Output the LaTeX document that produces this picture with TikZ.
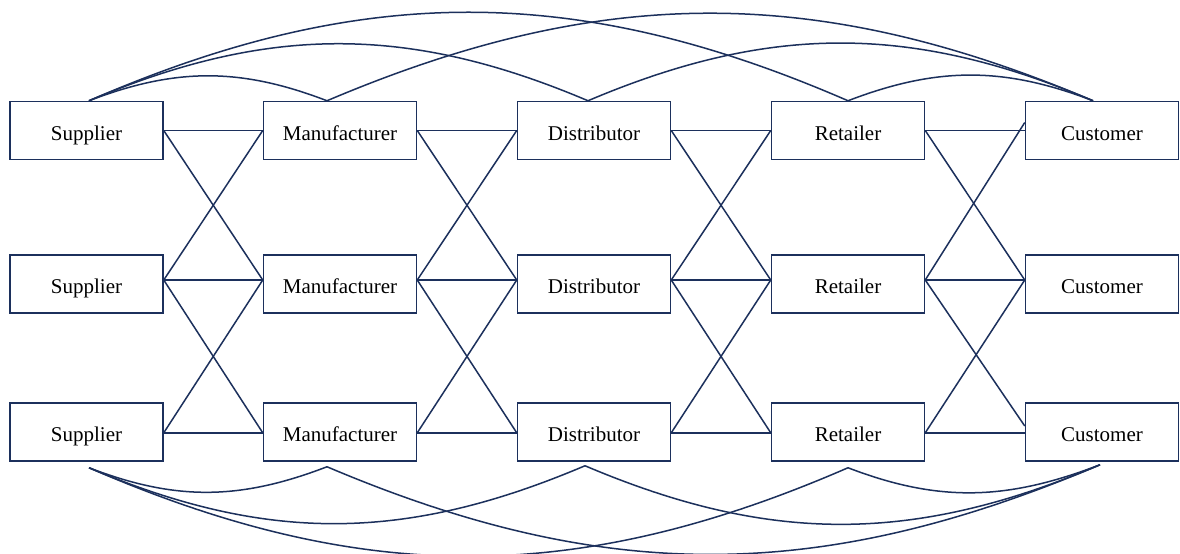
\documentclass[tikz,border=0pt]{standalone}
\usepackage{fontspec}
\setmainfont{Liberation Serif}
\definecolor{navy}{RGB}{28,48,92}
\begin{document}
\begin{tikzpicture}[x=0.5pt,y=-0.5pt,
  box/.style={draw=navy, line width=0.75pt, minimum width=76.5pt, minimum height=29pt,
    inner sep=0pt, text height=12pt, text depth=2.5pt, font=\fontsize{10.5}{12}\selectfont},
  link/.style={navy, line width=0.75pt}]
\useasboundingbox[fill=white] (0,0) rectangle (1180,553);
% boxes
\foreach \c/\x/\lab in {S/86.5/Supplier, M/340/Manufacturer, D/594/Distributor, R/848/Retailer, C/1102/Customer}{
  \foreach \r/\y/\s in {1/130.5/0pt, 2/284/2pt, 3/432/-0.4pt}{
    \node[box] (\c\r) at (\x,\y) {\lab};
    \coordinate (\c\r e) at ([yshift=\s]\c\r.east);
    \coordinate (\c\r w) at ([yshift=\s]\c\r.west);
  }
}
% links between adjacent columns
\foreach \a/\b in {S/M, M/D, D/R}{
  \foreach \i/\j in {1/1,1/2,2/1,2/2,2/3,3/2,3/3}{
    \draw[link] (\a\i e) -- (\b\j w);
  }
}
\coordinate (C1wd) at ([yshift=4pt]C1.west);
\coordinate (C3wd) at ([yshift=3pt]C3.west);
\draw[link] (R1e) -- (C1w);
\draw[link] (R1e) -- (C2w);
\draw[link] (R2e) -- (C1wd);
\draw[link] (R2e) -- (C2w);
\draw[link] (R2e) -- (C3wd);
\draw[link] (R3e) -- (C2w);
\draw[link] (R3e) -- (C3w);
% arc end points
\coordinate (St) at ([xshift=1.25pt]S1.north);
\coordinate (Mt) at ([xshift=-6.5pt]M1.north);
\coordinate (Dt) at ([xshift=-3pt]D1.north);
\coordinate (Rt) at (R1.north);
\coordinate (Ct) at ([xshift=-4.5pt]C1.north);
\coordinate (Sb) at ([xshift=1.25pt,yshift=-3pt]S3.south);
\coordinate (Mb) at ([xshift=-6.5pt,yshift=-2.5pt]M3.south);
\coordinate (Db) at ([xshift=-4.5pt,yshift=-2pt]D3.south);
\coordinate (Rb) at ([yshift=-3pt]R3.south);
\coordinate (Cb) at ([xshift=-1pt,yshift=-1.5pt]C3.south);
% top arcs
\draw[link] (St) to[out=21,in=159] (Mt);
\draw[link] (St) to[out=23,in=157] (Dt);
\draw[link] (St) to[out=23.5,in=156.5] (Rt);
\draw[link] (Mt) to[out=23,in=157] (Ct);
\draw[link] (Dt) to[out=23,in=157] (Ct);
\draw[link] (Rt) to[out=21,in=159] (Ct);
% bottom arcs
\draw[link] (Sb) to[out=-21,in=-159] (Mb);
\draw[link] (Sb) to[out=-23,in=-157] (Db);
\draw[link] (Sb) to[out=-23.5,in=-156.5] (Rb);
\draw[link] (Mb) to[out=-23,in=-157] (Cb);
\draw[link] (Db) to[out=-23,in=-157] (Cb);
\draw[link] (Rb) to[out=-21,in=-159] (Cb);
\end{tikzpicture}
\end{document}
